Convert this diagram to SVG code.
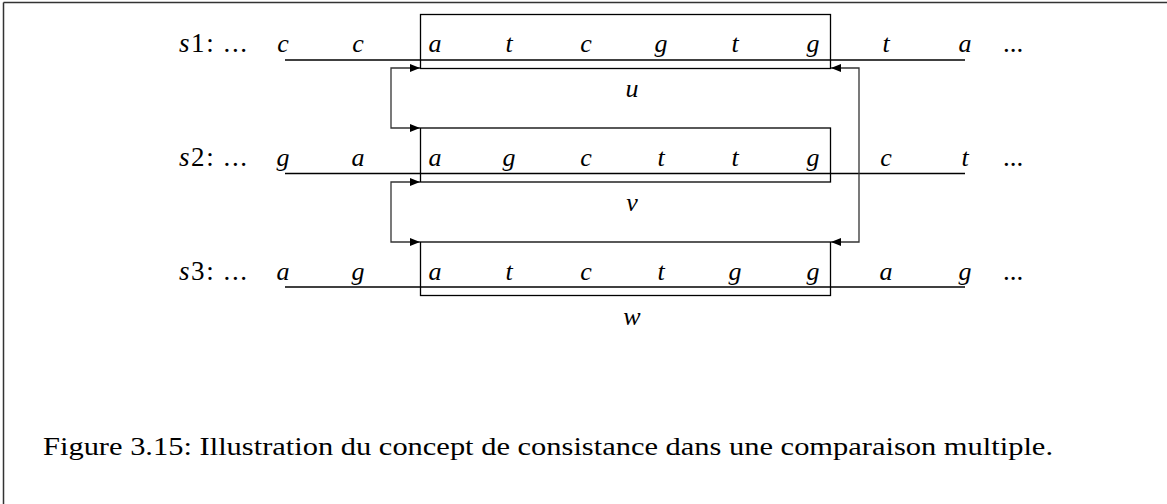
<svg xmlns="http://www.w3.org/2000/svg" width="1167" height="504" viewBox="0 0 1167 504">
  <style>
    .seq { font-family: "Liberation Serif", "DejaVu Serif", serif; font-style: italic; font-size: 26px; fill: #000; text-anchor: middle; }
    .lbl { font-family: "Liberation Serif", "DejaVu Serif", serif; font-size: 27px; fill: #000; }
    .cap { font-family: "Liberation Serif", "DejaVu Serif", serif; font-size: 25px; fill: #000; }
    .line { stroke: #000; stroke-width: 1.3; fill: none; }
    .box { stroke: #000; stroke-width: 1.3; fill: none; }
    .conn { stroke: #333; stroke-width: 1.3; fill: none; }
  </style>
  <defs>
    <marker id="arr" viewBox="0 0 10 8" refX="10" refY="4" markerWidth="10" markerHeight="8" markerUnits="userSpaceOnUse" orient="auto-start-reverse">
      <path d="M0,0 L10,4 L0,8 Z" fill="#000"/>
    </marker>
  </defs>

  <!-- page frame: top and left edges only -->
  <path d="M3.5,2.5 H1167 M3.5,2.5 V504" stroke="#333" stroke-width="1.5" fill="none"/>

  <!-- sequence s1 and segment u -->
  <g id="s1">
    <text class="lbl" x="179" y="52" textLength="68" lengthAdjust="spacing"><tspan font-style="italic">s</tspan>1: ...</text>
    <line class="line" x1="285" y1="60" x2="965" y2="60"/>
    <text class="seq" x="283" y="52">c</text>
    <text class="seq" x="358" y="52">c</text>
    <text class="seq" x="886" y="52">t</text>
    <text class="seq" x="965" y="52">a</text>
    <text class="lbl" x="1003" y="52">...</text>
  </g>
  <g id="u">
    <rect class="box" x="420.5" y="14.5" width="410" height="54"/>
    <text class="seq" x="435" y="52">a</text>
    <text class="seq" x="509" y="52">t</text>
    <text class="seq" x="586" y="52">c</text>
    <text class="seq" x="661" y="52">g</text>
    <text class="seq" x="735" y="52">t</text>
    <text class="seq" x="813" y="52">g</text>
    <text class="seq" x="632" y="97">u</text>
  </g>

  <!-- sequence s2 and segment v -->
  <g id="s2">
    <text class="lbl" x="179" y="166" textLength="68" lengthAdjust="spacing"><tspan font-style="italic">s</tspan>2: ...</text>
    <line class="line" x1="285" y1="173.5" x2="965" y2="173.5"/>
    <text class="seq" x="283" y="166">g</text>
    <text class="seq" x="358" y="166">a</text>
    <text class="seq" x="886" y="166">c</text>
    <text class="seq" x="965" y="166">t</text>
    <text class="lbl" x="1003" y="166">...</text>
  </g>
  <g id="v">
    <rect class="box" x="420.5" y="128" width="410" height="54" stroke="#444"/>
    <text class="seq" x="435" y="166">a</text>
    <text class="seq" x="509" y="166">g</text>
    <text class="seq" x="586" y="166">c</text>
    <text class="seq" x="661" y="166">t</text>
    <text class="seq" x="735" y="166">t</text>
    <text class="seq" x="813" y="166">g</text>
    <text class="seq" x="632" y="211">v</text>
  </g>

  <!-- sequence s3 and segment w -->
  <g id="s3">
    <text class="lbl" x="179" y="280" textLength="68" lengthAdjust="spacing"><tspan font-style="italic">s</tspan>3: ...</text>
    <line class="line" x1="285" y1="287" x2="965" y2="287"/>
    <text class="seq" x="283" y="280">a</text>
    <text class="seq" x="358" y="280">g</text>
    <text class="seq" x="886" y="280">a</text>
    <text class="seq" x="965" y="280">g</text>
    <text class="lbl" x="1003" y="280">...</text>
  </g>
  <g id="w">
    <rect class="box" x="420.5" y="242" width="410" height="53.5"/>
    <text class="seq" x="435" y="280">a</text>
    <text class="seq" x="509" y="280">t</text>
    <text class="seq" x="586" y="280">c</text>
    <text class="seq" x="661" y="280">t</text>
    <text class="seq" x="735" y="280">g</text>
    <text class="seq" x="813" y="280">g</text>
    <text class="seq" x="632" y="325">w</text>
  </g>

  <!-- consistency links between segments -->
  <g id="connectors">
    <path class="conn" d="M420,68 H391 V128 H420" marker-start="url(#arr)" marker-end="url(#arr)"/>
    <path class="conn" d="M420,182 H391 V242 H420" marker-start="url(#arr)" marker-end="url(#arr)"/>
    <path class="conn" d="M831,68 H859 V242 H831" marker-start="url(#arr)" marker-end="url(#arr)"/>
  </g>

  <text class="cap" x="43" y="455" textLength="1010" lengthAdjust="spacingAndGlyphs">Figure 3.15: Illustration du concept de consistance dans une comparaison multiple.</text>
</svg>
